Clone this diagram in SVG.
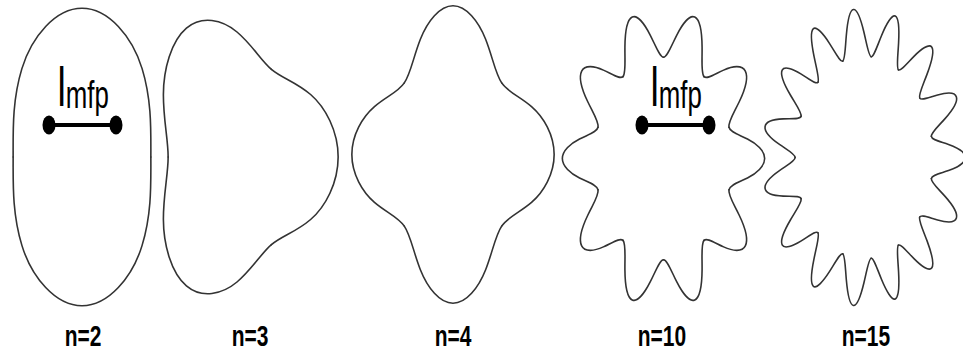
<svg xmlns="http://www.w3.org/2000/svg" width="963" height="355" viewBox="0 0 963 355">
<style>
.curve{fill:none;stroke:#333;stroke-width:1.6;stroke-linecap:round;stroke-linejoin:round;vector-effect:non-scaling-stroke}
.lab{font-family:"Liberation Sans",Arial,sans-serif;fill:#000}
.bar{stroke:#000;stroke-width:4}
.dot{fill:#000}
</style>
<defs>
<path id="lobe2" class="curve" vector-effect="non-scaling-stroke" d="M0,-0.81 C0.2121,-0.81 0.4516,-0.8219 0.7071,-0.7071 C0.9626,-0.5923 1.19,-0.3115 1.19,0 C1.19,0.3115 0.9626,0.5923 0.7071,0.7071 C0.4516,0.8219 0.2121,0.81 0,0.81"/>
<path id="lobe3" class="curve" vector-effect="non-scaling-stroke" d="M0.405,-0.7015 C0.5274,-0.6308 0.6926,-0.6014 0.866,-0.5 C1.0394,-0.3986 1.19,-0.2077 1.19,0 C1.19,0.2077 1.0394,0.3986 0.866,0.5 C0.6926,0.6014 0.5274,0.6308 0.405,0.7015"/>
<path id="lobe4" class="curve" vector-effect="non-scaling-stroke" d="M0.5728,-0.5728 C0.6477,-0.4978 0.7819,-0.4655 0.9239,-0.3827 C1.0659,-0.2998 1.19,-0.1558 1.19,0 C1.19,0.1558 1.0659,0.2998 0.9239,0.3827 C0.7819,0.4655 0.6477,0.4978 0.5728,0.5728"/>
<path id="lobe10" class="curve" vector-effect="non-scaling-stroke" d="M0.7704,-0.2503 C0.7835,-0.21 0.8812,-0.1926 0.9877,-0.1564 C1.0941,-0.1203 1.19,-0.0623 1.19,0 C1.19,0.0623 1.0941,0.1203 0.9877,0.1564 C0.8812,0.1926 0.7835,0.21 0.7704,0.2503"/>
<path id="lobe15" class="curve" vector-effect="non-scaling-stroke" d="M0.7923,-0.1684 C0.7982,-0.1408 0.8919,-0.1288 0.9945,-0.1045 C1.0971,-0.0802 1.19,-0.0415 1.19,0 C1.19,0.0415 1.0971,0.0802 0.9945,0.1045 C0.8919,0.1288 0.7982,0.1408 0.7923,0.1684"/>
</defs>
<g id="shape-n2" transform="translate(82,157) scale(85,125) rotate(90)">
<use href="#lobe2"/><use href="#lobe2" transform="rotate(180)"/>
</g>
<g id="shape-n3" transform="translate(237,157) scale(85,125)">
<use href="#lobe3"/><use href="#lobe3" transform="rotate(120)"/><use href="#lobe3" transform="rotate(240)"/>
</g>
<g id="shape-n4" transform="translate(453,154.5) scale(85,125)">
<use href="#lobe4"/><use href="#lobe4" transform="rotate(90)"/><use href="#lobe4" transform="rotate(180)"/><use href="#lobe4" transform="rotate(270)"/>
</g>
<g id="shape-n10" transform="translate(663.5,158.5) scale(85,125)">
<use href="#lobe10"/><use href="#lobe10" transform="rotate(36)"/><use href="#lobe10" transform="rotate(72)"/><use href="#lobe10" transform="rotate(108)"/><use href="#lobe10" transform="rotate(144)"/><use href="#lobe10" transform="rotate(180)"/><use href="#lobe10" transform="rotate(216)"/><use href="#lobe10" transform="rotate(252)"/><use href="#lobe10" transform="rotate(288)"/><use href="#lobe10" transform="rotate(324)"/>
</g>
<g id="shape-n15" transform="translate(864,157.5) scale(85,125)">
<use href="#lobe15"/><use href="#lobe15" transform="rotate(24)"/><use href="#lobe15" transform="rotate(48)"/><use href="#lobe15" transform="rotate(72)"/><use href="#lobe15" transform="rotate(96)"/><use href="#lobe15" transform="rotate(120)"/><use href="#lobe15" transform="rotate(144)"/><use href="#lobe15" transform="rotate(168)"/><use href="#lobe15" transform="rotate(192)"/><use href="#lobe15" transform="rotate(216)"/><use href="#lobe15" transform="rotate(240)"/><use href="#lobe15" transform="rotate(264)"/><use href="#lobe15" transform="rotate(288)"/><use href="#lobe15" transform="rotate(312)"/><use href="#lobe15" transform="rotate(336)"/>
</g>
<g id="mfp-n2">
<text class="lab" font-size="55" transform="translate(57.5,106) scale(0.68,1)">l<tspan font-size="38" dy="2">mfp</tspan></text>
<line class="bar" x1="49" y1="125" x2="116" y2="125"/>
<ellipse class="dot" cx="49" cy="125" rx="6.5" ry="9.5"/>
<ellipse class="dot" cx="116" cy="125" rx="6.5" ry="9.5"/>
</g>
<g id="mfp-n10">
<text class="lab" font-size="55" transform="translate(650.5,106) scale(0.68,1)">l<tspan font-size="38" dy="2">mfp</tspan></text>
<line class="bar" x1="642" y1="125" x2="709" y2="125"/>
<ellipse class="dot" cx="642" cy="125" rx="6.5" ry="9.5"/>
<ellipse class="dot" cx="709" cy="125" rx="6.5" ry="9.5"/>
</g>
<g id="labels" class="lab" font-size="30" font-weight="bold" text-anchor="middle">
<text transform="translate(83,346) scale(0.7,1)">n=2</text>
<text transform="translate(250,346) scale(0.7,1)">n=3</text>
<text transform="translate(453,346) scale(0.7,1)">n=4</text>
<text transform="translate(662,346) scale(0.7,1)">n=10</text>
<text transform="translate(866,346) scale(0.7,1)">n=15</text>
</g>
</svg>
